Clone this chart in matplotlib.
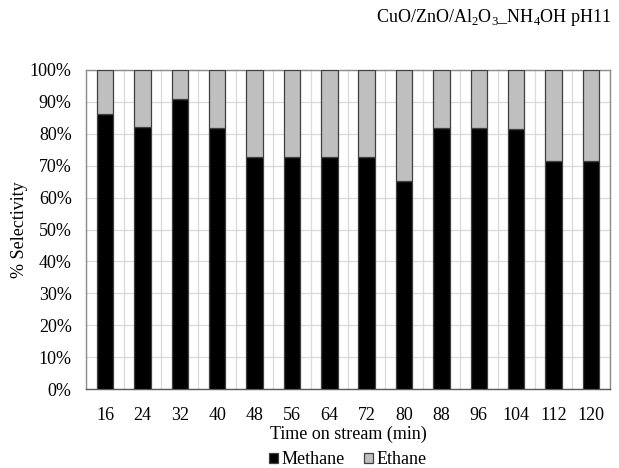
import matplotlib
matplotlib.use("Agg")
import matplotlib.pyplot as plt
import numpy as np
from matplotlib.ticker import FuncFormatter, MultipleLocator

plt.rcParams['font.family'] = ['Liberation Serif', 'DejaVu Serif']
plt.rcParams['mathtext.fontset'] = 'custom'
plt.rcParams['mathtext.rm'] = 'Liberation Serif'

times = ["16", "24", "32", "40", "48", "56", "64", "72", "80", "88", "96", "104", "112", "120"]
methane = [86.2, 82.0, 90.8, 81.7, 72.6, 72.8, 72.6, 72.6, 65.3, 81.7, 81.7, 81.5, 71.6, 71.6]
ethane = [100 - m for m in methane]

fig = plt.figure(figsize=(6.19, 4.68), dpi=100)
ax = fig.add_axes([86.3 / 619, 1 - 389 / 468, (609.7 - 86.3) / 619, (389 - 70) / 468])

x = np.arange(len(times))
w = 0.44
ax.bar(x, methane, w, color='black', edgecolor='#404040', linewidth=0.9, label='Methane', zorder=3)
ax.bar(x, ethane, w, bottom=methane, color='#bfbfbf', edgecolor='#404040', linewidth=0.9, label='Ethane', zorder=3)

ax.set_xlim(-0.5, len(times) - 0.5)
ax.set_ylim(0, 100)
ax.yaxis.set_major_locator(MultipleLocator(10))
ax.yaxis.set_major_formatter(FuncFormatter(lambda v, p: f"{int(round(v))}%"))
ax.set_xticks(x)
ax.set_xticklabels(times)
ax.set_xticks(np.arange(-0.5, len(times), 1), minor=True)
ax.tick_params(axis='both', which='both', length=0, labelsize=13, colors='black')
ax.tick_params(axis='x', pad=13)
ax.tick_params(axis='y', pad=10.5)
ax.grid(axis='y', which='major', color='#d9d9d9', linewidth=0.9, zorder=0)
ax.grid(axis='x', which='minor', color='#d9d9d9', linewidth=0.9, zorder=0)
ax.grid(axis='x', which='major', visible=False)
ax.set_axisbelow(True)
for s in ax.spines.values():
    s.set_color('#8c8c8c')
    s.set_linewidth(1.0)
ax.spines['bottom'].set_color('#595959')

ax.set_xlabel("Time on stream (min)", fontsize=13, labelpad=1)
ax.set_ylabel("% Selectivity", fontsize=13)
ax.yaxis.set_label_coords(-0.111, 0.5)

fig.text(0.988, 0.962, r"CuO/ZnO/Al$_2$O$_3$_NH$_4$OH pH11", ha='right', va='center', fontsize=13)

ax.legend(loc='center', bbox_to_anchor=(0.5, -0.222), ncol=2, frameon=False,
          fontsize=13, handlelength=0.5, handleheight=0.5, handletextpad=0.2,
          columnspacing=1.05, borderaxespad=0, borderpad=0)

fig.savefig("out.png", dpi=100)
